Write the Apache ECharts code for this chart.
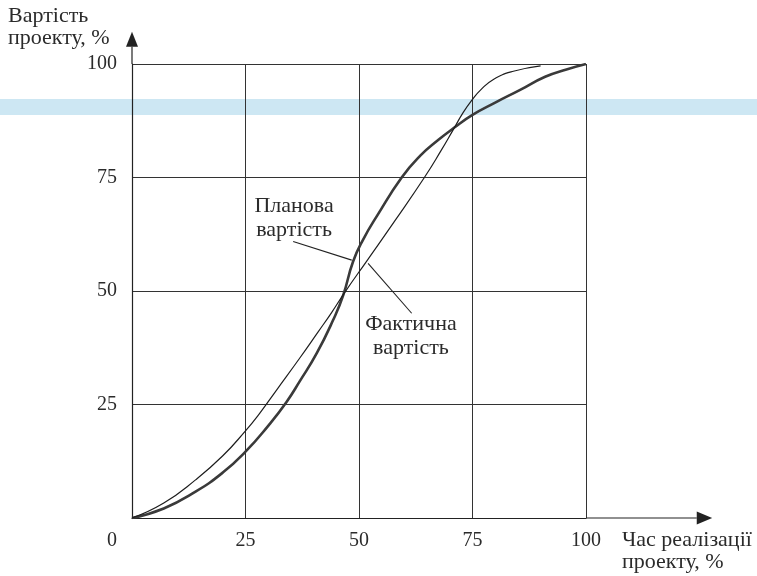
<!DOCTYPE html>
<html><head><meta charset="utf-8">
<script src="https://cdn.jsdelivr.net/npm/echarts@6/dist/echarts.min.js"></script>
<style>html,body{margin:0;padding:0;background:#fff}#c{width:757px;height:576px}</style>
</head><body><div id="c"></div>
<script>
// Planned cost (thick curve)
const planX = [0, 7, 14, 20, 25, 30, 34, 37, 40.7, 44.3, 46.5, 48.7, 51, 54, 59.4, 63.5, 67.5, 71, 75, 80, 85.5, 91, 95.7, 100];
const planY = [0, 2.1, 5.8, 10, 14.6, 20.3, 25.5, 30.2, 36.3, 43.6, 49, 56.5, 61.5, 66.6, 75, 79.8, 83.3, 86, 88.8, 91.5, 94.3, 97.2, 98.8, 100];
// Actual cost (thin curve)
const actX = [0, 7, 14, 20, 25, 28, 32, 37, 41, 44, 46.8, 51.7, 58, 64.4, 68, 70.8, 73, 75, 76.7, 79.6, 84, 90];
const actY = [0, 3.3, 8.4, 13.7, 19.2, 22.9, 28.4, 35.3, 41, 45.3, 49.6, 56.6, 65.6, 75, 80.8, 85.6, 89.4, 92.2, 94.2, 96.6, 98.4, 99.6];
const tickValues = [0, 25, 50, 75, 100];
const yTitle = ['Вартість', 'проекту, %'];
const xTitle = ['Час реалізації', 'проекту, %'];
const planLabel = ['Планова', 'вартість'];
const actLabel = ['Фактична', 'вартість'];

const FONT = 'Liberation Serif';
const TXT = '#2b2b2b';
const chart = echarts.init(document.getElementById('c'));
const axisCommon = {
  type: 'value', min: 0, max: 100, interval: 25,
  axisLine: { show: true, lineStyle: { color: '#222', width: 1.2 } },
  axisTick: { show: false },
  splitLine: { show: true, lineStyle: { color: '#333', width: 1 } }
};
const option = {
  animation: false,
  backgroundColor: '#fff',
  grid: { left: 132, top: 64, width: 454, height: 454 },
  xAxis: Object.assign({}, axisCommon, {
    axisLabel: {
      margin: 13, fontSize: 20, fontFamily: FONT, color: TXT,
      formatter: v => tickValues.indexOf(v) === 0 ? '{o|' + v + '}' : String(v),
      rich: { o: { fontSize: 20, fontFamily: FONT, color: TXT, padding: [0, 40, 0, 0] } }
    }
  }),
  yAxis: Object.assign({}, axisCommon, {
    axisLabel: { margin: 15, fontSize: 20, fontFamily: FONT, color: TXT, showMinLabel: false }
  }),
  series: [
    { name: 'Планова вартість', type: 'line', smooth: 0.5, showSymbol: false,
      data: planX.map((x, i) => [x, planY[i]]),
      lineStyle: { color: '#3a3a3a', width: 2.6 }, z: 3 },
    { name: 'Фактична вартість', type: 'line', smooth: 0.5, showSymbol: false,
      data: actX.map((x, i) => [x, actY[i]]),
      lineStyle: { color: '#1e1e1e', width: 1.2 }, z: 4 }
  ]
};
chart.setOption(option);

const P = (x, y) => chart.convertToPixel({ xAxisIndex: 0, yAxisIndex: 0 }, [x, y]);
const x100 = P(100, 0), y100 = P(0, 100);
const xBase = P(124.4, 0), xTip = P(127.8, 0);
const yBase = P(0, 103.8), yTip = P(0, 107.1);
const lineS = { stroke: '#222', lineWidth: 1.2 };
const txt = (t, x, y, align, size) => ({
  type: 'text', z: 10,
  style: { text: t, x: x, y: y, fill: TXT, fontSize: size, fontFamily: FONT, align: align, verticalAlign: 'middle', textAlign: align, textVerticalAlign: 'middle' }
});
const a1 = P(35.5, 60.9), a2 = P(48.4, 56.8), b1 = P(52.0, 56.1), b2 = P(61.6, 45.1);
const pl = P(35.7, 0), al = P(61.0, 0);
chart.setOption({
  graphic: [
    { type: 'rect', z: -5, silent: true, shape: { x: 0, y: 99, width: 757, height: 16 }, style: { fill: '#cde7f3' } },
    { type: 'line', z: 5, shape: { x1: x100[0], y1: x100[1], x2: xBase[0], y2: xBase[1] }, style: lineS },
    { type: 'polygon', z: 5, shape: { points: [[xBase[0], xBase[1] - 6.5], [xTip[0], xTip[1]], [xBase[0], xBase[1] + 6.5]] }, style: { fill: '#222' } },
    { type: 'line', z: 5, shape: { x1: y100[0], y1: y100[1], x2: yBase[0], y2: yBase[1] }, style: lineS },
    { type: 'polygon', z: 5, shape: { points: [[yBase[0] - 6, yBase[1]], [yTip[0], yTip[1]], [yBase[0] + 6, yBase[1]]] }, style: { fill: '#222' } },
    { type: 'line', z: 6, shape: { x1: a1[0], y1: a1[1], x2: a2[0], y2: a2[1] }, style: { stroke: '#222', lineWidth: 1.1 } },
    { type: 'line', z: 6, shape: { x1: b1[0], y1: b1[1], x2: b2[0], y2: b2[1] }, style: { stroke: '#222', lineWidth: 1.1 } },
    txt(planLabel[0], pl[0], 206, 'center', 22),
    txt(planLabel[1], pl[0], 230, 'center', 22),
    txt(actLabel[0], al[0] + 2, 324, 'center', 22),
    txt(actLabel[1], al[0] + 2, 348, 'center', 22),
    txt(yTitle[0], 8, 16, 'left', 22),
    txt(yTitle[1], 8, 38, 'left', 22),
    txt(xTitle[0], 622, 540, 'left', 22),
    txt(xTitle[1], 622, 562, 'left', 22)
  ]
});
</script>
</body></html>
